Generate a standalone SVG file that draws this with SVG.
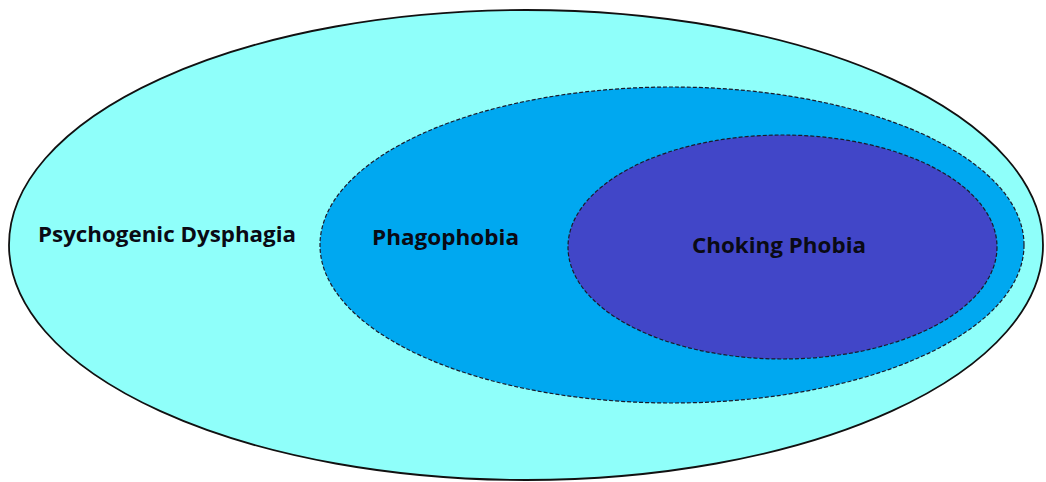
<svg xmlns="http://www.w3.org/2000/svg" width="1046" height="482" viewBox="0 0 1046 482">
<style>
.lbl{font-family:"Open Sans","Liberation Sans",sans-serif;font-weight:bold;font-size:21px;fill:#0a0a14}
.dash{stroke:#1a1a2a;stroke-width:1.2;stroke-dasharray:4 2}
</style>
<rect width="1046" height="482" fill="#ffffff"/>
<g id="psychogenic-dysphagia">
<ellipse cx="526" cy="245" rx="517" ry="235" fill="#8ffffa" stroke="#111" stroke-width="1.8"/>
<text class="lbl" x="38" y="242" textLength="258" lengthAdjust="spacingAndGlyphs">Psychogenic Dysphagia</text>
</g>
<g id="phagophobia">
<ellipse cx="672" cy="245" rx="352" ry="158" fill="#00a8f0" class="dash"/>
<text class="lbl" x="372" y="245" textLength="147" lengthAdjust="spacingAndGlyphs">Phagophobia</text>
</g>
<g id="choking-phobia">
<ellipse cx="782.5" cy="247" rx="214.5" ry="112" fill="#4146c8" class="dash"/>
<text class="lbl" x="692" y="253" textLength="174" lengthAdjust="spacingAndGlyphs">Choking Phobia</text>
</g>
<g id="connectors"></g>
</svg>
